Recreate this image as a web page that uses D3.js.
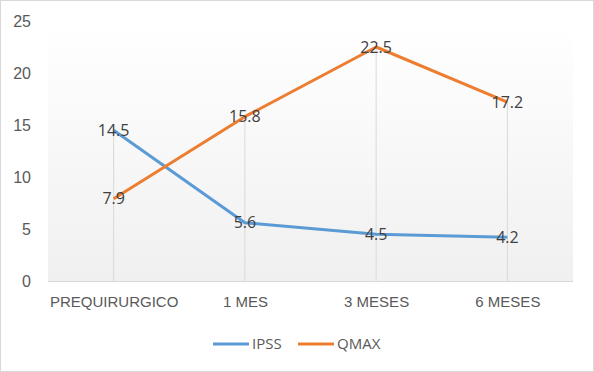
<!DOCTYPE html>
<html>
<head>
<meta charset="utf-8">
<script src="https://cdn.jsdelivr.net/npm/d3@7"></script>
<style>
  body { margin: 0; background: #fff; }
  svg { display: block; font-family: "Open Sans", "Noto Sans", sans-serif; }
</style>
</head>
<body>
<svg id="chart" width="594" height="372"></svg>
<script>
// Data
const categories = ["PREQUIRURGICO", "1 MES", "3 MESES", "6 MESES"];
const ipss = [14.5, 5.6, 4.5, 4.2];
const qmax = [7.9, 15.8, 22.5, 17.2];
const yTicks = [0, 5, 10, 15, 20, 25];

const series = [
  { name: "IPSS", values: ipss, color: "#5b9bd5" },
  { name: "QMAX", values: qmax, color: "#ed7d31" }
];

// Layout
const margin = { top: 21, right: 21, bottom: 91, left: 48 };
const width = 594 - margin.left - margin.right;
const height = 372 - margin.top - margin.bottom;

const svg = d3.select("#chart");

// outer border
svg.append("rect")
    .attr("x", 0.5).attr("y", 0.5)
    .attr("width", 593).attr("height", 371)
    .attr("fill", "#fff")
    .attr("stroke", "#d9d9d9");

// plot area gradient
const defs = svg.append("defs");
const grad = defs.append("linearGradient")
    .attr("id", "bg")
    .attr("x1", 0).attr("y1", 0).attr("x2", 0).attr("y2", 1);
grad.append("stop").attr("offset", "0%").attr("stop-color", "#ffffff");
grad.append("stop").attr("offset", "100%").attr("stop-color", "#f0f0f0");

const g = svg.append("g")
    .attr("transform", "translate(" + margin.left + "," + margin.top + ")");

// Scales
const xScale = d3.scalePoint()
    .domain(categories)
    .range([0, width])
    .padding(0.5);

const yScale = d3.scaleLinear()
    .domain([0, 25])
    .range([height, 0]);

g.append("rect")
    .attr("x", 0).attr("y", yScale(22.5) - 22)
    .attr("width", width)
    .attr("height", height - yScale(22.5) + 22)
    .attr("fill", "url(#bg)");

// drop lines
g.selectAll(".drop")
    .data(categories)
    .enter().append("line")
    .attr("class", "drop")
    .attr("x1", d => xScale(d))
    .attr("x2", d => xScale(d))
    .attr("y1", (d, i) => yScale(Math.max(ipss[i], qmax[i])))
    .attr("y2", height)
    .attr("stroke", "#d9d9d9")
    .attr("stroke-width", 1);

// Axes
const yAxis = d3.axisLeft(yScale).tickValues(yTicks).tickSize(0).tickPadding(17);
const yG = g.append("g").call(yAxis);
yG.select(".domain").remove();
yG.selectAll("text")
    .attr("fill", "#595959")
    .style("font-size", "16px");

const xAxis = d3.axisBottom(xScale).tickSize(0).tickPadding(15);
const xG = g.append("g")
    .attr("transform", "translate(0," + height + ")")
    .call(xAxis);
xG.select(".domain").attr("stroke", "#d9d9d9").attr("d", "M0,0.5H" + width);
xG.selectAll("text")
    .attr("fill", "#595959")
    .style("font-size", "15px");

// Lines
const line = d3.line()
    .x((d, i) => xScale(categories[i]))
    .y(d => yScale(d));

g.selectAll(".series")
    .data(series)
    .enter().append("path")
    .attr("class", "series")
    .attr("d", d => line(d.values))
    .attr("fill", "none")
    .attr("stroke", d => d.color)
    .attr("stroke-width", 3)
    .attr("stroke-linejoin", "round");

// Data labels
series.forEach(s => {
    g.selectAll(null)
        .data(s.values)
        .enter().append("text")
        .attr("x", (d, i) => xScale(categories[i]))
        .attr("y", d => yScale(d))
        .attr("dy", "0.35em")
        .attr("text-anchor", "middle")
        .attr("fill", "#404040")
        .style("font-size", "16px")
        .text(d => d.toFixed(1));
});

// Legend
const legend = svg.append("g").attr("transform", "translate(213,344)");
const legendOffsets = [0, 85];
series.forEach((s, i) => {
    const lg = legend.append("g").attr("transform", "translate(" + legendOffsets[i] + ",0)");
    lg.append("line")
        .attr("x1", 0).attr("x2", 36)
        .attr("stroke", s.color)
        .attr("stroke-width", 3);
    lg.append("text")
        .attr("x", 39)
        .attr("dy", "0.35em")
        .attr("fill", "#595959")
        .style("font-size", "15px")
        .text(s.name);
});
</script>
</body>
</html>
